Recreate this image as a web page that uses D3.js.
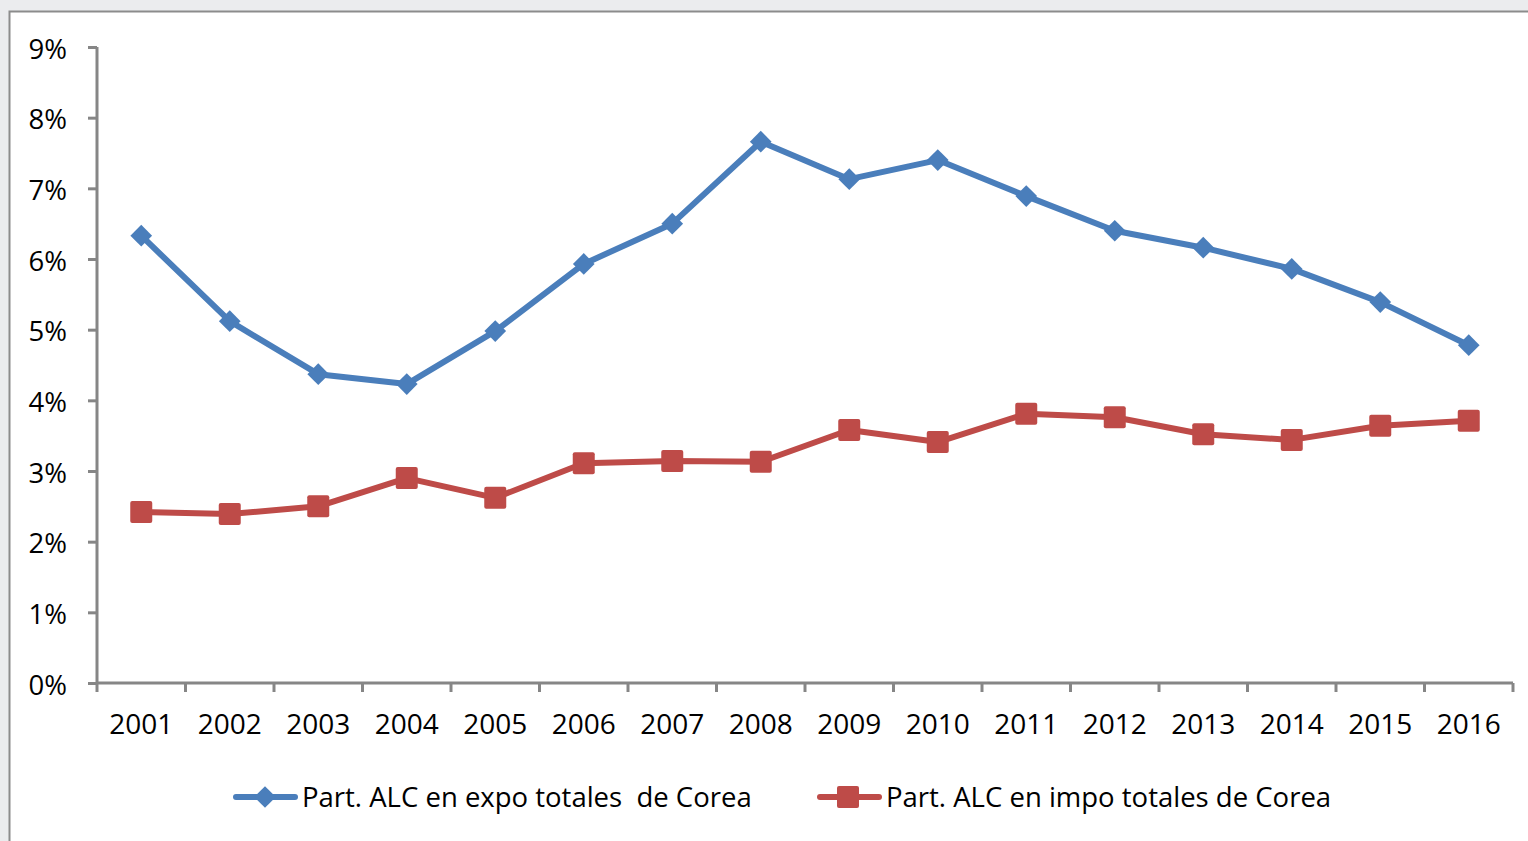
<!DOCTYPE html>
<html>
<head>
<meta charset="utf-8">
<script src="https://cdn.jsdelivr.net/npm/d3@7"></script>
<style>
  body { margin: 0; background: #ebecee; }
  svg { display: block; }
  text { font-family: "Open Sans", sans-serif; fill: #000; white-space: pre; }
</style>
</head>
<body>
<div id="chart"></div>
<script>
var years = ["2001", "2002", "2003", "2004", "2005", "2006", "2007", "2008",
  "2009", "2010", "2011", "2012", "2013", "2014", "2015", "2016"];
var expo = [6.33, 5.12, 4.37, 4.23, 4.98, 5.93, 6.50, 7.66,
  7.13, 7.40, 6.89, 6.40, 6.16, 5.86, 5.39, 4.78];
var impo = [2.42, 2.39, 2.50, 2.90, 2.62, 3.11, 3.14, 3.13,
  3.58, 3.41, 3.81, 3.76, 3.52, 3.44, 3.64, 3.71];
var yTicks = [0, 1, 2, 3, 4, 5, 6, 7, 8, 9];
var seriesNames = ["Part. ALC en expo totales  de Corea", "Part. ALC en impo totales de Corea"];

var W = 1528, H = 841;
var margin = { top: 47, right: 15, bottom: 158, left: 97 };
var width = W - margin.left - margin.right;
var height = H - margin.top - margin.bottom;

var svg = d3.select("#chart").append("svg")
  .attr("width", W)
  .attr("height", H);

// frame
svg.append("rect")
  .attr("x", 9.5).attr("y", 11.5)
  .attr("width", W + 20).attr("height", H + 20)
  .attr("fill", "#fff")
  .attr("stroke", "#8c8c8c")
  .attr("stroke-width", 2);

var g = svg.append("g")
  .attr("transform", "translate(" + margin.left + "," + margin.top + ")");

var x = d3.scaleBand().domain(years).range([0, width]);
var y = d3.scaleLinear().domain([0, 9]).range([height, 0]);

// y axis
var yAxis = g.append("g")
  .call(d3.axisLeft(y).tickValues(yTicks).tickSize(9).tickPadding(21)
    .tickFormat(function(d) { return d + "%"; }));
yAxis.selectAll("text").style("font-size", "27.5px").attr("dy", "0.4em");

// x axis
var xAxis = g.append("g")
  .attr("transform", "translate(0," + height + ")")
  .call(d3.axisBottom(x).tickSize(0).tickPadding(31));
xAxis.selectAll("text").style("font-size", "28px");
xAxis.select(".domain").remove();
xAxis.append("line")
  .attr("x1", 0).attr("x2", width)
  .attr("stroke", "#868686").attr("stroke-width", 3);
xAxis.selectAll(".bnd")
  .data(years.concat(["end"]))
  .enter().append("line")
  .attr("class", "bnd")
  .attr("x1", function(d, i) { return i * x.step(); })
  .attr("x2", function(d, i) { return i * x.step(); })
  .attr("y1", 0).attr("y2", 9)
  .attr("stroke", "#868686").attr("stroke-width", 3);

yAxis.select(".domain").remove();
yAxis.selectAll("line").attr("stroke", "#868686").attr("stroke-width", 3);
yAxis.append("line")
  .attr("x1", 0).attr("x2", 0).attr("y1", 0).attr("y2", height)
  .attr("stroke", "#868686").attr("stroke-width", 3);

var cx = function(d, i) { return x(years[i]) + x.bandwidth() / 2; };

var blue = "#4a7ebb", red = "#be4b48";

var line = d3.line()
  .x(function(d, i) { return cx(d, i); })
  .y(function(d) { return y(d); });

g.append("path").datum(expo)
  .attr("d", line).attr("fill", "none")
  .attr("stroke", blue).attr("stroke-width", 6).attr("stroke-linejoin", "round");

g.append("path").datum(impo)
  .attr("d", line).attr("fill", "none")
  .attr("stroke", red).attr("stroke-width", 6).attr("stroke-linejoin", "round");

var diamond = d3.symbol().type(d3.symbolDiamond2).size(300);

g.selectAll(".dia").data(expo).enter().append("path")
  .attr("class", "dia")
  .attr("d", diamond)
  .attr("transform", function(d, i) { return "translate(" + cx(d, i) + "," + y(d) + ")"; })
  .attr("fill", blue);

g.selectAll(".sq").data(impo).enter().append("rect")
  .attr("class", "sq")
  .attr("x", function(d, i) { return cx(d, i) - 11; })
  .attr("y", function(d) { return y(d) - 11; })
  .attr("width", 22).attr("height", 22).attr("rx", 2)
  .attr("fill", red);

// legend
var legend = svg.append("g");
var items = [
  { name: seriesNames[0], color: blue, x: 233, shape: "dia" },
  { name: seriesNames[1], color: red, x: 817, shape: "sq" }
];
var ly = 797;
items.forEach(function(it) {
  legend.append("line")
    .attr("x1", it.x + 3).attr("x2", it.x + 62)
    .attr("y1", ly).attr("y2", ly)
    .attr("stroke", it.color).attr("stroke-width", 6).attr("stroke-linecap", "round");
  if (it.shape === "dia") {
    legend.append("path").attr("d", diamond)
      .attr("transform", "translate(" + (it.x + 32) + "," + ly + ")")
      .attr("fill", it.color);
  } else {
    legend.append("rect")
      .attr("x", it.x + 31 - 11).attr("y", ly - 11)
      .attr("width", 22).attr("height", 22).attr("rx", 2)
      .attr("fill", it.color);
  }
  legend.append("text")
    .attr("x", it.x + 69).attr("y", ly)
    .attr("dy", "0.38em")
    .style("font-size", "27.5px")
    .text(it.name);
});
</script>
</body>
</html>
